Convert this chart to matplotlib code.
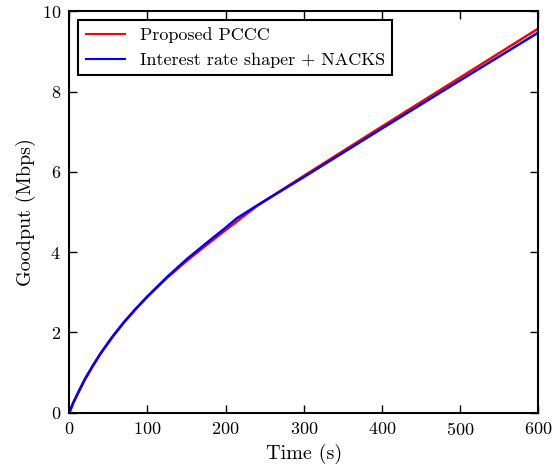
import matplotlib
matplotlib.use("Agg")
import matplotlib.pyplot as plt

# Goodput over time for the two congestion-control schemes
time_s = [0, 5, 12, 20, 30, 40, 55, 70, 85, 100, 125, 150, 175, 200, 214,
          240, 300, 400, 500, 600]
pccc_mbps = [0.0, 0.24, 0.52, 0.83, 1.16, 1.47, 1.88, 2.25, 2.58, 2.89, 3.36,
             3.78, 4.17, 4.55, 4.76, 5.15, 5.90, 7.13, 8.35, 9.57]
shaper_mbps = [0.0, 0.25, 0.53, 0.84, 1.17, 1.48, 1.89, 2.26, 2.59, 2.90, 3.38,
               3.82, 4.22, 4.61, 4.84, 5.16, 5.87, 7.08, 8.28, 9.47]

plt.rcParams["font.family"] = "serif"
plt.rcParams["font.serif"] = ["cmr10", "DejaVu Serif"]
plt.rcParams["mathtext.fontset"] = "cm"
plt.rcParams["axes.formatter.use_mathtext"] = True

fig = plt.figure(figsize=(5.59, 4.69), dpi=100)
ax = fig.add_axes([0.124, 0.120, 0.839, 0.856])

ax.plot(time_s, pccc_mbps, color="red", linewidth=1.8, label="Proposed PCCC")
ax.plot(time_s, shaper_mbps, color="blue", linewidth=1.8,
        label="Interest rate shaper + NACKS")

ax.set_xlim(0, 600)
ax.set_ylim(0, 10)
ax.set_xticks([0, 100, 200, 300, 400, 500, 600])
ax.set_yticks([0, 2, 4, 6, 8, 10])
ax.tick_params(direction="in", top=True, right=True, length=6, width=1,
               labelsize=13, pad=6)
for spine in ax.spines.values():
    spine.set_linewidth(1.5)

ax.set_xlabel("Time (s)", fontsize=14.5)
ax.set_ylabel("Goodput (Mbps)", fontsize=14.5)

leg = ax.legend(loc="upper left", fancybox=False, framealpha=1,
                edgecolor="black", fontsize=13, borderaxespad=0.5,
                handlelength=2.2)
leg.get_frame().set_linewidth(1.5)
for handle in leg.get_lines():
    handle.set_linewidth(1.5)

fig.savefig("out.png", dpi=100)
